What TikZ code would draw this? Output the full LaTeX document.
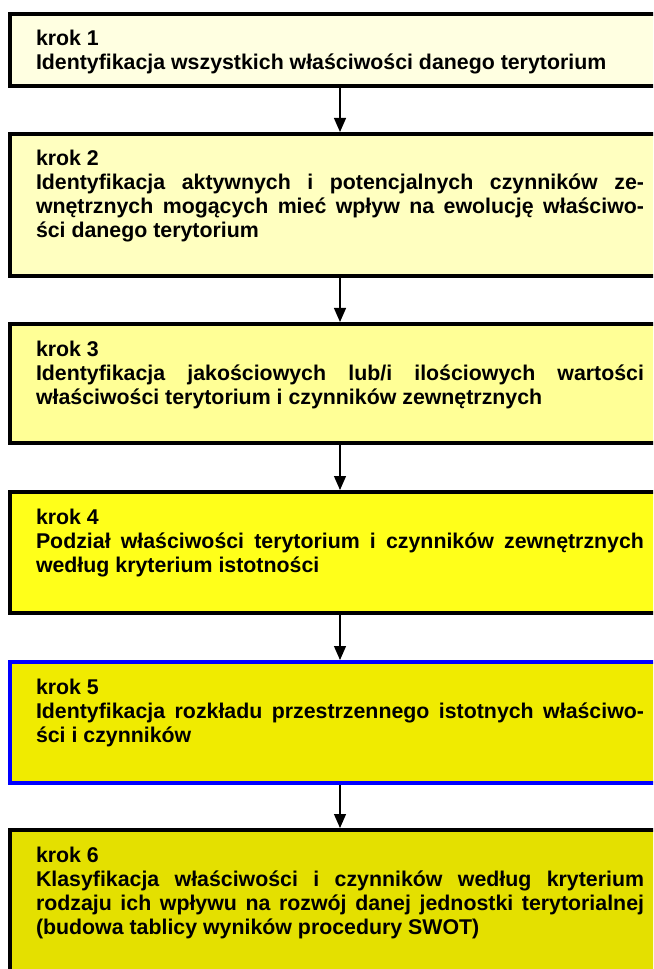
\documentclass[tikz,border=0pt]{standalone}
\usepackage{fontspec}
\setmainfont{Liberation Sans}
\usepackage{tikz}
\usetikzlibrary{arrows.meta}
\tikzset{>=latex}
\hyphenpenalty=10000
\definecolor{kolor1}{RGB}{255, 255, 225}
\definecolor{kolor2}{RGB}{255, 255, 192}
\definecolor{kolor3}{RGB}{255, 255, 150}
\definecolor{kolor4}{RGB}{255, 255, 26}
\definecolor{kolor5}{RGB}{240, 235, 0}
\definecolor{kolor6}{RGB}{228, 224, 0}

\begin{document}
\begin{tikzpicture}[
    x = 0.75pt, y = -0.75pt,
    krok/.style = {draw, line width = 3pt, anchor = north west,
        minimum width = 495pt, text width = 456pt, align = justify,
        inner xsep = 9pt, inner ysep = 9pt, text height = 15pt,
        font = \fontsize{16pt}{18pt}\selectfont\bfseries},
    pil/.style = {line width = 0.9pt, -{Triangle[width = 9pt, length = 10.5pt]}}
]
\clip (0,0) rectangle (653, 969);

\node[krok, fill = kolor1, text depth = 21pt] (krok1) at (8, 12)
    {krok 1\\Identyfikacja wszystkich właściwości danego terytorium};
\node[krok, fill = kolor2, text depth = 73.5pt] (krok2) at (8, 132)
    {krok 2\\Identyfikacja aktywnych i potencjalnych czynników ze-\linebreak wnętrznych mogących mieć wpływ na ewolucję właściwo-\linebreak ści danego terytorium};
\node[krok, fill = kolor3, text depth = 56.25pt] (krok3) at (8, 322)
    {krok 3\\Identyfikacja jakościowych lub/i ilościowych wartości\linebreak właściwości terytorium i czynników zewnętrznych};
\node[krok, fill = kolor4, text depth = 57.75pt] (krok4) at (8, 490)
    {krok 4\\Podział właściwości terytorium i czynników zewnętrznych\linebreak według kryterium istotności};
\node[krok, fill = kolor5, draw = blue, text depth = 57.75pt] (krok5) at (8, 660)
    {krok 5\\Identyfikacja rozkładu przestrzennego istotnych właściwo-\linebreak ści i czynników};
\node[krok, fill = kolor6, text depth = 91.5pt] (krok6) at (8, 828)
    {krok 6\\Klasyfikacja właściwości i czynników według kryterium\linebreak rodzaju ich wpływu na rozwój danej jednostki terytorialnej\linebreak (budowa tablicy wyników procedury SWOT)};

\draw[pil] (krok1.south) -- (krok2.north);
\draw[pil] (krok2.south) -- (krok3.north);
\draw[pil] (krok3.south) -- (krok4.north);
\draw[pil] (krok4.south) -- (krok5.north);
\draw[pil] (krok5.south) -- (krok6.north);

\end{tikzpicture}
\end{document}
